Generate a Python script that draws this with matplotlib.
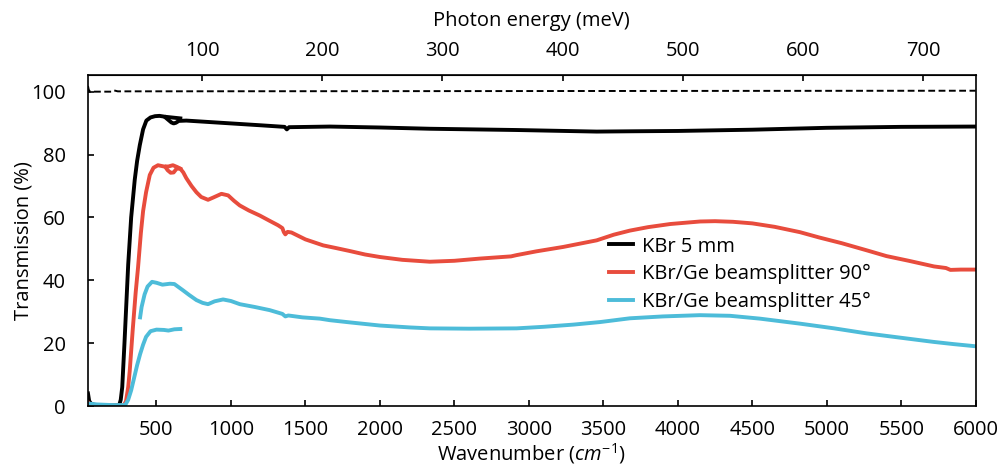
import numpy as np
import matplotlib
matplotlib.use('Agg')
import matplotlib.pyplot as plt

plt.rcParams['font.family'] = ['Open Sans', 'DejaVu Sans']
plt.rcParams['mathtext.fontset'] = 'custom'
plt.rcParams['mathtext.rm'] = 'Open Sans'
plt.rcParams['mathtext.it'] = 'Open Sans:italic'
plt.rcParams['font.size'] = 14.5

# 100 % reference (dashed)
ref_wn = [40, 45, 55, 70, 200, 215, 240, 6000]
ref_t = [101.8, 100.6, 99.9, 100.0, 100.0, 100.4, 100.1, 100.3]

# KBr 5 mm, far-IR segment
kbr_far_wn = [40, 48, 60, 80, 120, 200, 250, 260, 270, 285, 298, 310, 330, 354, 370, 388,
              410, 432, 460, 490, 520, 560, 600, 640, 660]
kbr_far_t = [4.0, 1.6, 0.8, 0.4, 0.2, 0.1, 0.3, 2, 6, 20, 33, 45, 60, 72, 78, 83,
             88, 90.8, 91.8, 92.2, 92.3, 92.0, 91.8, 91.6, 91.5]
# KBr 5 mm, mid-IR segment
kbr_mid_wn = [560, 580, 600, 615, 630, 650, 700, 800, 1000, 1200, 1360, 1375, 1390, 1664,
              2000, 2335, 2917, 3455, 3700, 4000, 4500, 5000, 5500, 6000]
kbr_mid_t = [91.8, 91.0, 90.2, 89.9, 90.1, 90.7, 90.8, 90.5, 89.9, 89.3, 88.8, 88.0, 88.7, 88.9,
             88.6, 88.2, 87.8, 87.3, 87.4, 87.5, 87.9, 88.5, 88.8, 88.9]

# KBr/Ge beamsplitter 90 deg
bs90_far_wn = [40, 55, 80, 150, 280, 295, 310, 320, 340, 360, 376, 395, 410, 430, 455,
               480, 510, 550, 580, 610, 640, 660]
bs90_far_t = [1.2, 0.4, 0.2, 0.1, 0.2, 1.5, 6, 11, 24, 36, 44, 55, 62, 68, 73.5,
              75.8, 76.6, 76.2, 76.2, 76.6, 76.0, 75.5]
bs90_mid_wn = [560, 575, 595, 615, 635, 660, 680, 700, 735, 768, 800, 846, 880, 936, 981,
               1020, 1059, 1120, 1193, 1260, 1316, 1345, 1355, 1365, 1380, 1406, 1500,
               1619, 1700, 1798, 1900, 2000, 2150, 2335, 2500, 2671, 2850, 2880, 2917,
               3050, 3230, 3455, 3570, 3678, 3800, 3950, 4150, 4250, 4370, 4500, 4650,
               4820, 4950, 5100, 5270, 5400, 5550, 5720, 5800, 5830, 5900, 6000]
bs90_mid_t = [76.0, 75.0, 74.2, 74.3, 75.5, 75.5, 74.3, 72.5, 70.0, 68.0, 66.5, 65.6, 66.3, 67.5, 67.0,
              65.3, 63.8, 62.2, 60.6, 58.9, 57.5, 56.6, 55.3, 54.6, 55.4, 55.2, 53.0,
              51.1, 50.3, 49.3, 48.2, 47.4, 46.5, 45.9, 46.2, 46.9, 47.5, 47.6, 48.0,
              49.2, 50.6, 52.7, 54.5, 55.8, 56.9, 57.9, 58.7, 58.8, 58.6, 58.1, 57.0,
              55.3, 53.6, 51.8, 49.5, 47.7, 46.2, 44.4, 43.9, 43.3, 43.4, 43.4]

# KBr/Ge beamsplitter 45 deg
bs45_far_wn = [40, 100, 200, 290, 310, 330, 350, 370, 390, 410, 430, 460, 500,
               550, 580, 620, 660]
bs45_far_t = [0.8, 0.5, 0.3, 0.3, 2, 5, 9, 13, 16.5, 19.5, 22, 23.8, 24.3,
              24.2, 24.0, 24.4, 24.5]
bs45_mid_wn = [390, 400, 420, 440, 470, 500, 540, 590, 620, 678, 720, 768, 810, 846, 890,
               947, 1000, 1059, 1160, 1260, 1345, 1365, 1385, 1480, 1596, 1664, 1798,
               2000, 2200, 2335, 2600, 2917, 3100, 3300, 3477, 3678, 3900, 4148, 4350,
               4550, 4820, 5050, 5268, 5500, 5716, 5850, 6000]
bs45_mid_t = [28.2, 31.5, 35.5, 38.0, 39.5, 39.2, 38.6, 38.9, 38.8, 36.8, 35.3, 33.7, 32.8, 32.4, 33.3,
              33.9, 33.4, 32.4, 31.5, 30.5, 29.3, 28.5, 28.8, 28.2, 27.8, 27.3, 26.6,
              25.6, 25.0, 24.7, 24.6, 24.7, 25.2, 25.9, 26.7, 27.9, 28.5, 28.9, 28.7,
              27.8, 26.2, 24.7, 23.1, 21.7, 20.4, 19.7, 19.0]

black = '#000000'
red = '#e84c3d'
cyan = '#4dbcd9'
lw = 2.8

fig = plt.figure(figsize=(10.02, 4.67), dpi=100)
ax = fig.add_axes([0.0878, 0.1306, 0.886, 0.7088])

ax.plot(ref_wn, ref_t, color='black', lw=1.4, ls=(0, (3.5, 1.8)))
ax.plot(kbr_far_wn, kbr_far_t, color=black, lw=lw, label='KBr 5 mm')
ax.plot(kbr_mid_wn, kbr_mid_t, color=black, lw=lw)
ax.plot(bs90_far_wn, bs90_far_t, color=red, lw=lw, label='KBr/Ge beamsplitter 90°')
ax.plot(bs90_mid_wn, bs90_mid_t, color=red, lw=lw)
ax.plot(bs45_far_wn, bs45_far_t, color=cyan, lw=lw, label='KBr/Ge beamsplitter 45°')
ax.plot(bs45_mid_wn, bs45_mid_t, color=cyan, lw=lw)

ax.set_xlim(40, 6000)
ax.set_ylim(0, 105.3)
ax.set_xticks(np.arange(500, 6001, 500))
ax.set_yticks(np.arange(0, 101, 20))
ax.tick_params(axis='x', direction='in', length=4, width=1.2, pad=10)
ax.tick_params(axis='y', direction='in', length=4, width=1.2, pad=16)
for s in ax.spines.values():
    s.set_linewidth(1.2)

ax.set_xlabel(r'Wavenumber ($\mathit{cm}^{-1}$)', labelpad=1)
ax.set_ylabel('Transmission (%)', labelpad=-2)

sec = ax.secondary_xaxis('top', functions=(lambda w: w * 0.123984, lambda e: e / 0.123984))
sec.set_xticks(np.arange(100, 701, 100))
sec.tick_params(direction='in', length=4, width=1.2, pad=10)
sec.set_xlabel('Photon energy (meV)', labelpad=11)

ax.legend(loc='upper left', bbox_to_anchor=(0.587, 0.512), frameon=False,
          handlelength=1.2, handletextpad=0.45, labelspacing=0.38,
          borderaxespad=0, borderpad=0)

fig.savefig('out.png', dpi=100)
